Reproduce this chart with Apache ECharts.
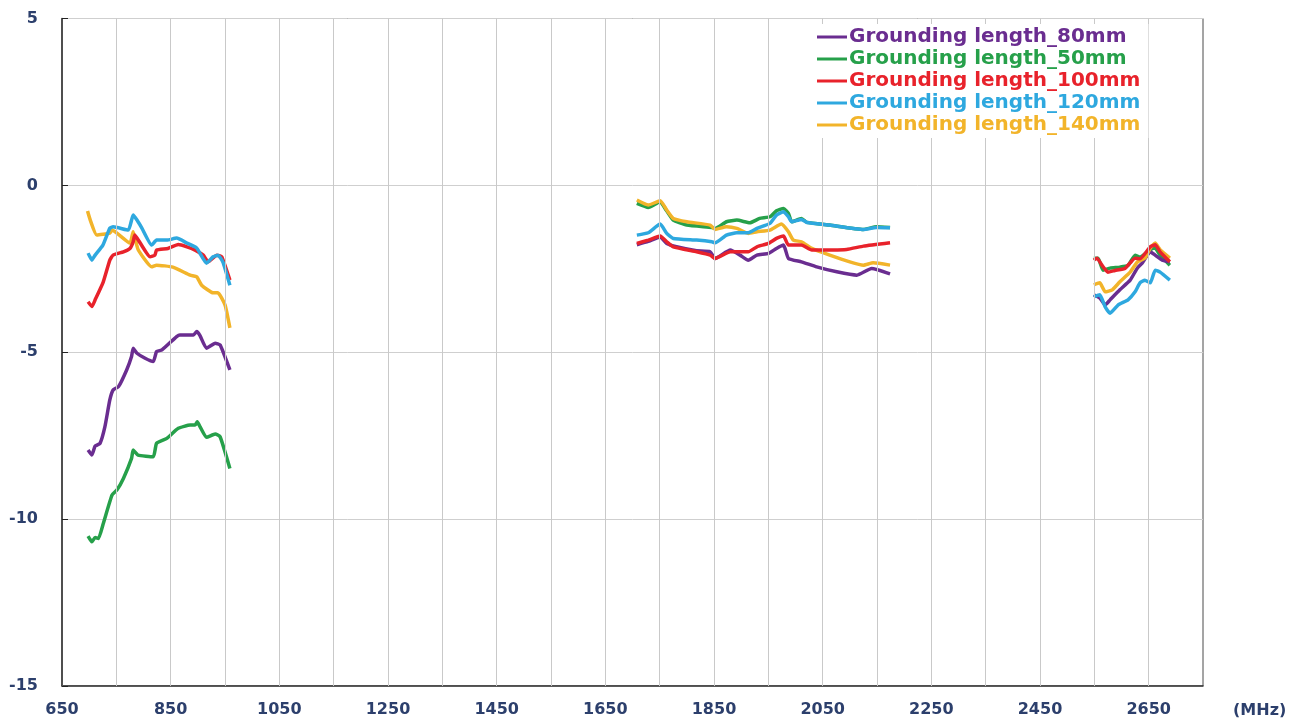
<!DOCTYPE html>
<html>
<head>
<meta charset="utf-8">
<script src="https://cdn.jsdelivr.net/npm/echarts@6/dist/echarts.min.js"></script>
<style>html,body{margin:0;padding:0;background:#fff;}#c{width:1306px;height:720px;}</style>
</head>
<body>
<div id="c"></div>
<script>
// ---- data (frequency MHz, value dB) ----
const seriesNames = ['Grounding length_80mm','Grounding length_50mm','Grounding length_100mm','Grounding length_120mm','Grounding length_140mm'];
const xLabelValues = [650,850,1050,1250,1450,1650,1850,2050,2250,2450,2650];
const xGridValues = [750,850,950,1050,1150,1250,1350,1450,1550,1650,1750,1850,1950,2050,2150,2250,2350,2450,2550,2650];

const g80_b1 = [[698,-7.93],[705,-8.08],[711,-7.81],[720,-7.73],[729,-7.23],[738,-6.43],[744,-6.13],[754,-6.03],[769,-5.53],[778,-5.13],[781,-4.88],[788,-5.03],[803,-5.18],[818,-5.28],[824,-4.98],[834,-4.93],[861,-4.53],[867,-4.48],[892,-4.48],[898,-4.38],[904,-4.5],[916,-4.88],[932,-4.73],[941,-4.78],[959,-5.53]];
const g80_b2 = [[1708,-1.78],[1729,-1.68],[1751,-1.55],[1763,-1.74],[1781,-1.84],[1818,-1.96],[1843,-1.99],[1852,-2.19],[1880,-1.94],[1898,-2.09],[1913,-2.24],[1929,-2.09],[1950,-2.04],[1965,-1.89],[1978,-1.79],[1987,-2.19],[2011,-2.29],[2039,-2.44],[2076,-2.59],[2113,-2.69],[2140,-2.49],[2174,-2.65]];
const g80_b3 = [[2549,-3.28],[2560,-3.37],[2570,-3.58],[2579,-3.43],[2597,-3.13],[2616,-2.84],[2629,-2.48],[2638,-2.33],[2653,-1.99],[2662,-2.09],[2675,-2.24],[2689,-2.29]];

const g50_b1 = [[698,-10.51],[705,-10.68],[711,-10.55],[717,-10.58],[726,-10.13],[742,-9.28],[751,-9.13],[763,-8.78],[778,-8.18],[781,-7.93],[790,-8.08],[818,-8.13],[824,-7.73],[843,-7.58],[864,-7.28],[886,-7.18],[895,-7.18],[899,-7.08],[904,-7.23],[916,-7.55],[932,-7.45],[941,-7.53],[959,-8.48]];
const g50_b2 = [[1708,-0.54],[1729,-0.66],[1751,-0.49],[1760,-0.69],[1775,-1.04],[1800,-1.19],[1846,-1.26],[1852,-1.29],[1873,-1.09],[1892,-1.04],[1916,-1.12],[1934,-0.99],[1953,-0.94],[1965,-0.76],[1978,-0.69],[1987,-0.84],[1993,-1.09],[2011,-0.99],[2021,-1.11],[2063,-1.19],[2125,-1.32],[2149,-1.24],[2174,-1.26]];
const g50_b3 = [[2549,-2.18],[2557,-2.18],[2566,-2.54],[2579,-2.48],[2597,-2.45],[2612,-2.4],[2625,-2.09],[2634,-2.15],[2653,-1.93],[2662,-1.88],[2671,-2.09],[2689,-2.39]];

const g100_b1 = [[698,-3.49],[705,-3.63],[711,-3.43],[726,-2.89],[738,-2.24],[744,-2.09],[763,-1.99],[775,-1.89],[781,-1.69],[784,-1.49],[794,-1.73],[812,-2.14],[821,-2.09],[824,-1.94],[845,-1.89],[864,-1.77],[880,-1.84],[895,-1.94],[910,-2.09],[919,-2.29],[935,-2.09],[944,-2.14],[959,-2.84]];
const g100_b2 = [[1708,-1.74],[1729,-1.64],[1751,-1.52],[1763,-1.69],[1775,-1.84],[1818,-1.99],[1843,-2.09],[1852,-2.19],[1880,-1.99],[1913,-1.99],[1929,-1.84],[1950,-1.74],[1965,-1.59],[1978,-1.52],[1987,-1.79],[2011,-1.79],[2030,-1.94],[2094,-1.92],[2125,-1.82],[2174,-1.72]];
const g100_b3 = [[2549,-2.24],[2555,-2.18],[2564,-2.39],[2575,-2.6],[2588,-2.55],[2607,-2.48],[2625,-2.18],[2634,-2.2],[2653,-1.84],[2662,-1.78],[2671,-1.99],[2689,-2.29]];

const g120_b1 = [[698,-2.03],[705,-2.24],[711,-2.09],[725,-1.8],[738,-1.28],[744,-1.24],[772,-1.34],[781,-0.89],[788,-1.04],[797,-1.28],[815,-1.79],[824,-1.64],[843,-1.64],[861,-1.58],[880,-1.73],[898,-1.88],[916,-2.33],[928,-2.14],[937,-2.09],[946,-2.29],[959,-2.99]];
const g120_b2 = [[1708,-1.49],[1729,-1.42],[1751,-1.16],[1763,-1.44],[1775,-1.59],[1818,-1.64],[1846,-1.69],[1852,-1.72],[1873,-1.49],[1892,-1.42],[1913,-1.42],[1929,-1.29],[1953,-1.14],[1965,-0.89],[1978,-0.79],[1987,-0.94],[1993,-1.09],[2011,-1.02],[2021,-1.11],[2063,-1.19],[2125,-1.32],[2149,-1.26],[2174,-1.27]];
const g120_b3 = [[2549,-3.34],[2560,-3.28],[2570,-3.64],[2579,-3.83],[2594,-3.58],[2612,-3.43],[2625,-3.19],[2634,-2.92],[2643,-2.84],[2653,-2.92],[2662,-2.54],[2671,-2.6],[2689,-2.84]];

const g140_b1 = [[697,-0.77],[702,-1.04],[714,-1.49],[738,-1.43],[742,-1.34],[775,-1.73],[781,-1.39],[790,-1.92],[815,-2.44],[824,-2.39],[854,-2.45],[886,-2.69],[898,-2.74],[907,-2.99],[928,-3.22],[937,-3.22],[950,-3.58],[959,-4.27]];
const g140_b2 = [[1708,-0.44],[1729,-0.59],[1751,-0.46],[1763,-0.74],[1775,-0.99],[1800,-1.09],[1843,-1.19],[1852,-1.32],[1873,-1.24],[1892,-1.29],[1913,-1.44],[1929,-1.39],[1953,-1.34],[1974,-1.16],[1987,-1.39],[1996,-1.64],[2011,-1.69],[2030,-1.89],[2063,-2.09],[2100,-2.29],[2125,-2.39],[2143,-2.32],[2174,-2.39]];
const g140_b3 = [[2549,-2.98],[2560,-2.92],[2570,-3.19],[2583,-3.13],[2597,-2.89],[2616,-2.6],[2629,-2.3],[2643,-2.18],[2653,-1.88],[2662,-1.73],[2671,-1.93],[2689,-2.18]];

const bands = [
  [g80_b1, g80_b2, g80_b3],
  [g50_b1, g50_b2, g50_b3],
  [g100_b1, g100_b2, g100_b3],
  [g120_b1, g120_b2, g120_b3],
  [g140_b1, g140_b2, g140_b3]
];
const colors = ['#6a2d90','#26a04a','#e8222b','#2ea8df','#f2b42a'];
const labelColor = '#2c3f6c';
const font = 'DejaVu Sans';

const series = [];
// vertical grid lines every 100 MHz, drawn through the x scale
series.push({
  type: 'line', data: [], silent: true, z: 1,
  markLine: {
    silent: true, symbol: 'none', label: {show: false}, animation: false,
    lineStyle: {color: '#c9c9c9', width: 1, type: 'solid'},
    data: xGridValues.map(v => ({xAxis: v}))
  }
});
const drawOrder = [1,0,4,2,3];
drawOrder.forEach(i => {
  bands[i].forEach(b => {
    series.push({
      name: seriesNames[i], type: 'line', data: b, showSymbol: false, smooth: 0.15,
      lineStyle: {width: 3.5, color: colors[i]}, itemStyle: {color: colors[i]}, z: 3
    });
  });
});

const chart = echarts.init(document.getElementById('c'), null, {renderer: 'canvas'});
chart.setOption({
  backgroundColor: '#fff',
  animation: false,
  color: colors,
  grid: {left: 62, right: 103, top: 18.5, bottom: 34, show: true, borderColor: '#4a4a4a', borderWidth: 1,
         containLabel: false, outerBoundsMode: 'none'},
  legend: {
    orient: 'vertical', left: 812, top: 24, icon: 'rect', itemWidth: 30, itemHeight: 3, itemGap: 2, z: 10,
    backgroundColor: '#fff', padding: [3, 8, 3, 5], selectedMode: false,
    textStyle: {fontFamily: font, fontWeight: 'bold', fontSize: 20, lineHeight: 20, padding: [0, 0, 0, -3]},
    data: seriesNames.map((n, i) => ({name: n, textStyle: {color: colors[i]}}))
  },
  xAxis: {
    type: 'value', min: 650, max: 2750, interval: 50,
    name: '(MHz)', nameLocation: 'end', nameGap: 30,
    nameTextStyle: {color: labelColor, fontFamily: font, fontWeight: 'bold', fontSize: 16, verticalAlign: 'top', padding: [17, 0, 0, 0]},
    axisLine: {show: true, onZero: false, lineStyle: {color: '#333', width: 1.5}},
    axisTick: {show: true, inside: true, length: 4, customValues: xLabelValues, lineStyle: {color: '#555'}},
    axisLabel: {customValues: xLabelValues, formatter: v => String(v), color: labelColor, fontFamily: font, fontWeight: 'bold', fontSize: 16, margin: 16},
    splitLine: {show: false}
  },
  yAxis: {
    type: 'value', min: -15, max: 5, interval: 5,
    name: '(dB)', nameLocation: 'middle', nameGap: 36,
    nameTextStyle: {color: labelColor, fontFamily: font, fontWeight: 'bold', fontSize: 16},
    axisLine: {show: true, onZero: false, lineStyle: {color: '#333', width: 1.5}},
    axisTick: {show: true, inside: true, length: 6, lineStyle: {color: '#222'}},
    axisLabel: {color: labelColor, fontFamily: font, fontWeight: 'bold', fontSize: 16, margin: 24},
    splitLine: {show: true, lineStyle: {color: '#cfcfcf', width: 1}}
  },
  series: series
});
</script>
</body>
</html>
